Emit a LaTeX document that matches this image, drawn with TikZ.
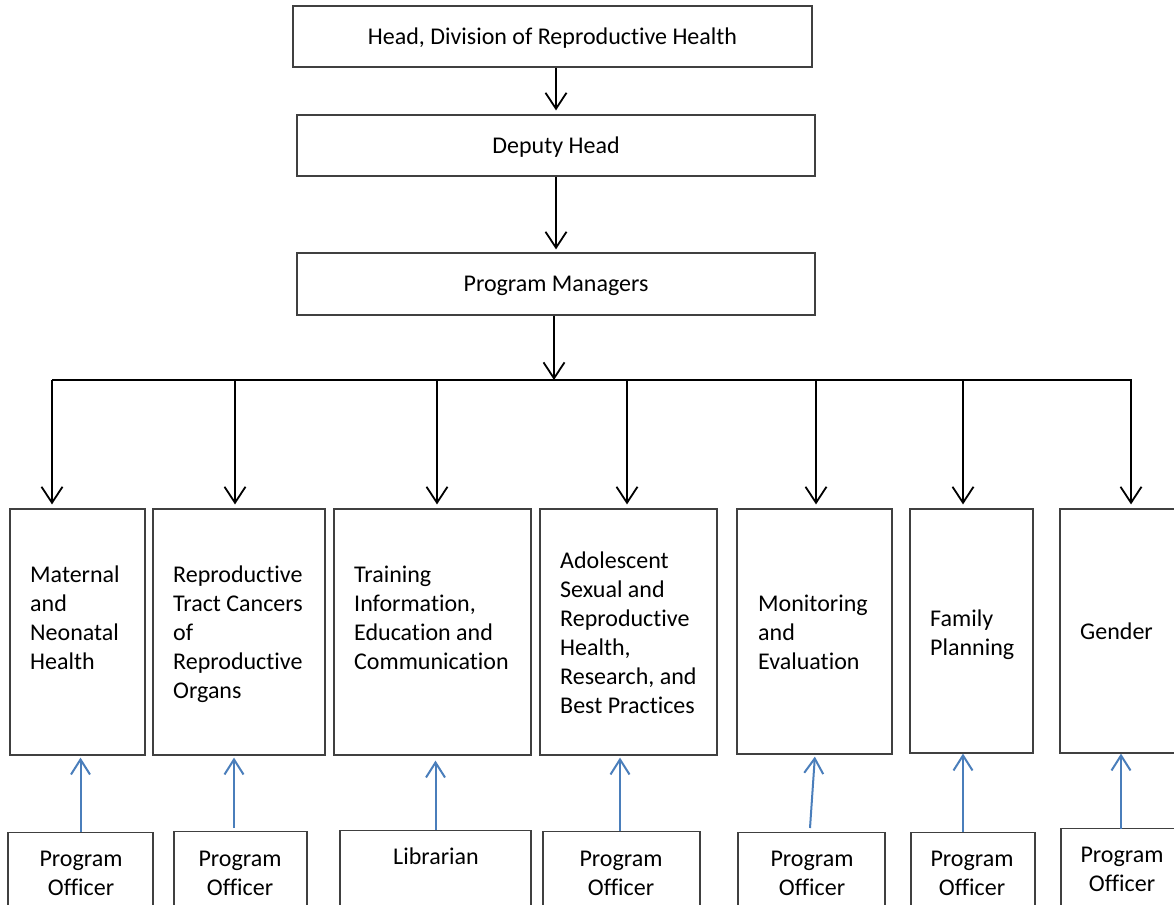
\documentclass[tikz,border=0pt]{standalone}
\usepackage{fontspec}
\setmainfont{Carlito}[Ligatures=NoCommon]
\usetikzlibrary{arrows.meta}
\definecolor{offblue}{HTML}{4A7EBB}
\newcommand{\lftlines}[1]{\begin{tabular}[t]{@{}l@{}}#1\end{tabular}}
\newcommand{\ctrlines}[1]{\begin{tabular}[t]{@{}c@{}}#1\end{tabular}}
\begin{document}
\begin{tikzpicture}[x=1pt,y=-1pt,
  box/.style={draw=black!75, line width=1.2pt, inner sep=0pt, font=\fontsize{24}{29}\selectfont},
  single/.style={text height=15.5pt, text depth=0pt},
  txt/.style={inner sep=0pt, font=\fontsize{24}{29}\selectfont},
  darr/.style={line width=1.8pt, -{Straight Barb[length=16pt,width=21pt]}},
  barr/.style={draw=offblue, line width=2pt, -{Straight Barb[length=15pt,width=19pt]}}]
\clip (0,0) rectangle (1174,904);
\fill[white] (0,0) rectangle (1174,904);
% top chain
\node[box, single, minimum width=519pt, minimum height=61pt] (head) at (552.5,36.5) {Head, Division of Reproductive Health};
\node[box, single, minimum width=518pt, minimum height=61pt] (dep) at (556,145.5) {Deputy Head};
\node[box, single, minimum width=518pt, minimum height=62pt] (pm) at (556,284) {Program Managers};
\draw[darr, shorten >=4pt] (dep.north |- head.south) -- (dep.north);
\draw[darr, shorten >=3pt] (dep.south) -- (pm.north);
\coordinate (bm) at (554,380);
\draw[darr] (pm.south -| bm) -- (bm);
% bus
\coordinate (bl) at (52,380);
\coordinate (br) at (1132,380);
\draw[line width=1.8pt] (bl) -- (br);
\coordinate (d1) at (52,380);
\coordinate (d2) at (235,380);
\coordinate (d3) at (437,380);
\coordinate (d4) at (627,380);
\coordinate (d5) at (816,380);
\coordinate (d6) at (963,380);
\coordinate (d7) at (1131,380);
% units
\node[box, minimum width=135pt, minimum height=246pt] (m1) at (77.5,632) {};
\node[box, minimum width=172pt, minimum height=246pt] (m2) at (239,632) {};
\node[box, minimum width=197pt, minimum height=246pt] (m3) at (432.5,632) {};
\node[box, minimum width=177pt, minimum height=246pt] (m4) at (628.5,632) {};
\node[box, minimum width=155pt, minimum height=245pt] (m5) at (814.5,631.5) {};
\node[box, minimum width=123pt, minimum height=244pt] (m6) at (971.5,631) {};
\node[box, minimum width=130pt, minimum height=244pt] (m7) at (1125,631) {};
\foreach \i in {1,...,7} {\draw[darr, shorten >=4pt] (d\i) -- (d\i |- m\i.north);}
\node[txt, anchor=base west] (t1) at (30,582) {\lftlines{Maternal\\and\\Neonatal\\Health}};
\node[txt, anchor=base west] (t2) at (173,582) {\lftlines{Reproductive\\Tract Cancers\\of\\Reproductive\\Organs}};
\node[txt, anchor=base west] (t3) at (354,582) {\lftlines{Training\\Information,\\Education and\\Communication}};
\node[txt, anchor=base west] (t4) at (560,568) {\lftlines{Adolescent\\Sexual and\\Reproductive\\Health,\\Research, and\\Best Practices}};
\node[txt, anchor=base west] (t5) at (758,611) {\lftlines{Monitoring\\and\\Evaluation}};
\node[txt, anchor=base west] (t6) at (930,626) {\lftlines{Family\\Planning}};
\node[txt, anchor=base west] (t7) at (1080,639) {Gender};
% officers
\node[box, anchor=north, minimum width=145pt, minimum height=92pt] (o1) at (80.5,832) {};
\node[box, anchor=north, minimum width=133pt, minimum height=92pt] (o2) at (240.5,831) {};
\node[box, anchor=north, minimum width=191pt, minimum height=92pt] (o3) at (435.5,830) {};
\node[box, anchor=north, minimum width=157pt, minimum height=92pt] (o4) at (621.5,831) {};
\node[box, anchor=north, minimum width=147pt, minimum height=92pt] (o5) at (811.5,832) {};
\node[box, anchor=north, minimum width=124pt, minimum height=92pt] (o6) at (973,832) {};
\node[box, anchor=north, minimum width=129pt, minimum height=92pt] (o7) at (1125.5,828) {};
\node[txt, anchor=base] (p1) at (81,866) {\ctrlines{Program\\Officer}};
\node[txt, anchor=base] (p2) at (240,866) {\ctrlines{Program\\Officer}};
\node[txt, anchor=base] (p3) at (436,864) {Librarian};
\node[txt, anchor=base] (p4) at (621,866) {\ctrlines{Program\\Officer}};
\node[txt, anchor=base] (p5) at (812,866) {\ctrlines{Program\\Officer}};
\node[txt, anchor=base] (p6) at (972,866) {\ctrlines{Program\\Officer}};
\node[txt, anchor=base] (p7) at (1122,862) {\ctrlines{Program\\Officer}};
% blue arrows
\draw[barr, shorten >=2pt] (o1.north) -- (o1.north |- m1.south);
\draw[barr, shorten >=2pt] ([xshift=-6.5pt,yshift=3pt]o2.north) coordinate (s2) -- (s2 |- m2.south);
\draw[barr, shorten >=5pt] (o3.north) -- (o3.north |- m3.south);
\draw[barr, shorten >=2pt] ([xshift=-1.5pt]o4.north) coordinate (s4) -- (s4 |- m4.south);
\draw[barr, shorten >=2pt] ([xshift=-1.5pt,yshift=4pt]o5.north) -- ([xshift=0.5pt]m5.south);
\draw[barr, shorten >=0pt] ([xshift=-10pt]o6.north) coordinate (s6) -- (s6 |- m6.south);
\draw[barr, shorten >=0pt] ([xshift=-4.5pt,yshift=-1pt]o7.north) coordinate (s7) -- (s7 |- m7.south);
\end{tikzpicture}
\end{document}
